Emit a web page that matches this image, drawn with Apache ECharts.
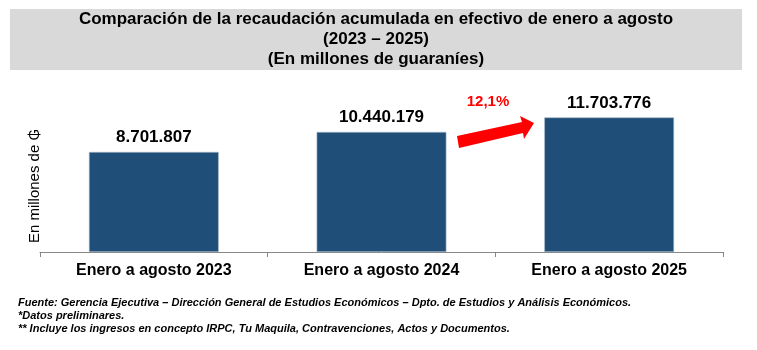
<!DOCTYPE html>
<html><head><meta charset="utf-8">
<script src="https://cdn.jsdelivr.net/npm/echarts@6/dist/echarts.min.js"></script>
<style>html,body{margin:0;padding:0;background:#fff}#c{width:757px;height:350px}</style>
</head><body><div id="c"></div>
<script>
const categories = ['Enero a agosto 2023', 'Enero a agosto 2024', 'Enero a agosto 2025'];
const values = [8701807, 10440179, 11703776];
const growthLabel = '12,1%';
const titleLines = ['Comparación de la recaudación acumulada en efectivo de enero a agosto', '(2023 – 2025)', '(En millones de guaraníes)'];
const yName = 'En millones de ₲';
const notes = ['Fuente: Gerencia Ejecutiva – Dirección General de Estudios Económicos – Dpto. de Estudios y Análisis Económicos.', '*Datos preliminares.', '** Incluye los ingresos en concepto IRPC, Tu Maquila, Contravenciones, Actos y Documentos.'];

const narrow = '"Liberation Sans Narrow", "Arial Narrow", "Liberation Sans", Arial, sans-serif';
const fmt = v => v.toString().replace(/\B(?=(\d{3})+(?!\d))/g, '.');

const chart = echarts.init(document.getElementById('c'));
chart.setOption({
  animation: false,
  grid: { left: 40, right: 34, top: 91, bottom: 98 },
  xAxis: {
    type: 'category', data: categories,
    axisLine: { lineStyle: { color: '#868686', width: 1 } },
    axisTick: { show: true, length: 5, lineStyle: { color: '#868686' } },
    axisLabel: { color: '#000', fontSize: 16, fontWeight: 'bold', fontFamily: narrow, margin: 11 }
  },
  yAxis: { type: 'value', min: 0, max: 14000000, show: false },
  series: [{
    type: 'bar', data: values, barWidth: '57%',
    itemStyle: { color: '#1f4e79', borderColor: '#a9b8c8', borderWidth: 0.6 },
    label: { show: true, position: 'top', distance: 6, color: '#000', fontSize: 17, fontWeight: 'bold', fontFamily: 'Liberation Sans, Arial, sans-serif', formatter: p => fmt(p.value) }
  }],
  graphic: [
    { type: 'rect', shape: { x: 10, y: 9, width: 732, height: 61 }, style: { fill: '#d9d9d9' }, z: -1 },
    { type: 'text', x: 376, y: 19, style: { text: titleLines[0], fontSize: 17, fontWeight: 'bold', fontFamily: narrow, fill: '#000', align: 'center', verticalAlign: 'middle' } },
    { type: 'text', x: 376, y: 39, style: { text: titleLines[1], fontSize: 17, fontWeight: 'bold', fontFamily: narrow, fill: '#000', align: 'center', verticalAlign: 'middle' } },
    { type: 'text', x: 376, y: 59, style: { text: titleLines[2], fontSize: 17, fontWeight: 'bold', fontFamily: narrow, fill: '#000', align: 'center', verticalAlign: 'middle' } },
    { type: 'text', x: 35, y: 186, rotation: Math.PI / 2, style: { text: yName, fontSize: 15, fontFamily: 'Liberation Sans, Arial, DejaVu Sans, sans-serif', fill: '#000', align: 'center', verticalAlign: 'middle' } },
    { type: 'polygon', shape: { points: [[457, 136], [522, 122], [520, 116], [534, 123], [524, 139], [523, 133], [459, 148]] }, style: { fill: '#ff0000' } },
    { type: 'text', x: 488, y: 102, style: { text: growthLabel, fontSize: 15, fontWeight: 'bold', fontFamily: 'Liberation Sans, Arial, sans-serif', fill: '#ff0000', align: 'center', verticalAlign: 'middle' } },
    { type: 'text', x: 18, y: 303, style: { text: notes[0], fontSize: 11, fontWeight: 'bold', fontStyle: 'italic', fontFamily: narrow, fill: '#000', verticalAlign: 'middle' } },
    { type: 'text', x: 18, y: 316, style: { text: notes[1], fontSize: 11, fontWeight: 'bold', fontStyle: 'italic', fontFamily: narrow, fill: '#000', verticalAlign: 'middle' } },
    { type: 'text', x: 18, y: 329, style: { text: notes[2], fontSize: 11, fontWeight: 'bold', fontStyle: 'italic', fontFamily: narrow, fill: '#000', verticalAlign: 'middle' } }
  ]
});
</script></body></html>
